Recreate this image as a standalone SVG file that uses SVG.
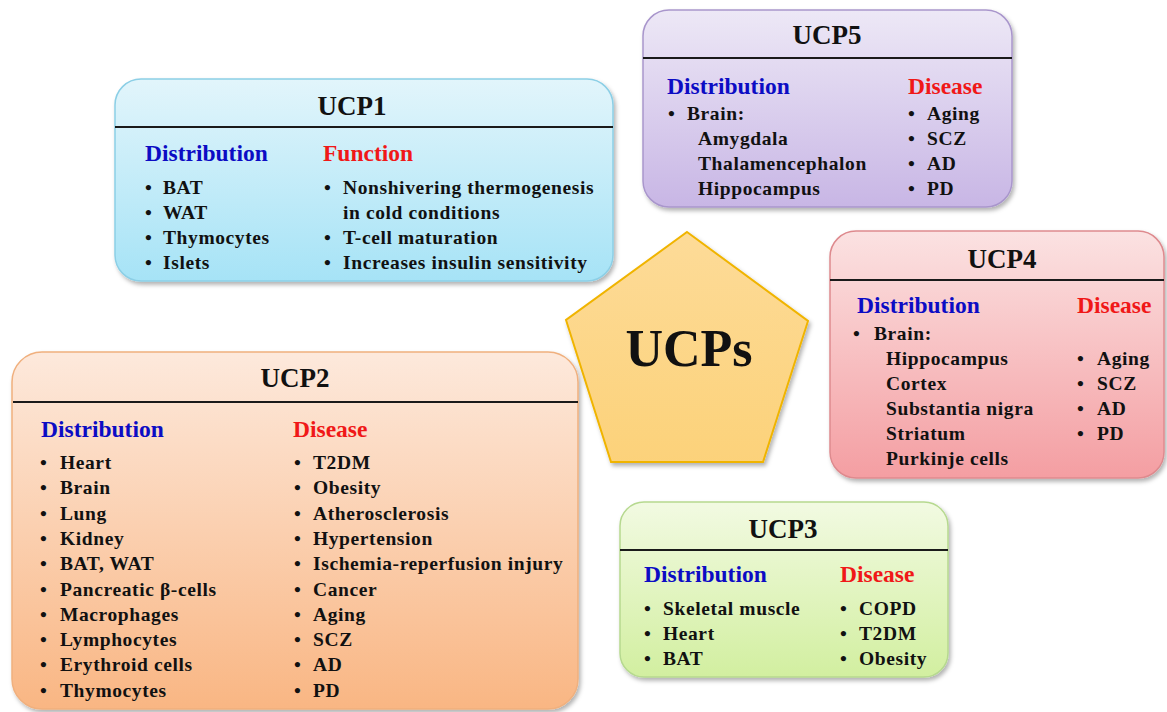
<svg xmlns="http://www.w3.org/2000/svg" width="1167" height="712" viewBox="0 0 1167 712">
<style>
.t{font-family:"Liberation Serif","Times New Roman",serif;font-weight:bold;fill:#111}
.title{font-size:27px;text-anchor:middle}
.h{font-size:23.5px}
.blue{fill:#0c0cc4}
.red{fill:#f01818}
.it{font-size:19.5px;letter-spacing:0.6px}
.hl{stroke:#1a1a1a;stroke-width:2}
</style>
<defs>
<filter id="sh" x="-5%" y="-5%" width="112%" height="115%">
<feDropShadow dx="2" dy="3" stdDeviation="2" flood-color="#000" flood-opacity="0.3"/>
</filter>
<linearGradient id="g1" x1="0" y1="0" x2="0" y2="1"><stop offset="0" stop-color="#e2f5fb"/><stop offset="1" stop-color="#a6e3f6"/></linearGradient>
<linearGradient id="g5" x1="0" y1="0" x2="0" y2="1"><stop offset="0" stop-color="#ede8f6"/><stop offset="1" stop-color="#c8b6e5"/></linearGradient>
<linearGradient id="g4" x1="0" y1="0" x2="0" y2="1"><stop offset="0" stop-color="#fbe2e2"/><stop offset="1" stop-color="#f49ea2"/></linearGradient>
<linearGradient id="g2" x1="0" y1="0" x2="0" y2="1"><stop offset="0" stop-color="#fde9dc"/><stop offset="1" stop-color="#f9b683"/></linearGradient>
<linearGradient id="g3" x1="0" y1="0" x2="0" y2="1"><stop offset="0" stop-color="#f2fae2"/><stop offset="1" stop-color="#d2efa0"/></linearGradient>
<linearGradient id="gp" x1="0" y1="0" x2="0" y2="1"><stop offset="0" stop-color="#fddb98"/><stop offset="1" stop-color="#fcd27a"/></linearGradient>
</defs>
<rect width="1167" height="712" fill="#fff"/>

<g id="connectors"></g>

<g id="ucps">
<polygon points="687,232 808,321 763,462 611,462 566,320" fill="url(#gp)" stroke="#f0b400" stroke-width="2" filter="url(#sh)"/>
<text class="t" x="689" y="366" font-size="52" text-anchor="middle">UCPs</text>
</g>

<g id="ucp1">
<rect x="115" y="79" width="498" height="202" rx="26" fill="url(#g1)" stroke="#8ccfe6" stroke-width="1.5" filter="url(#sh)"/>
<line class="hl" x1="115" y1="127" x2="613" y2="127"/>
<text class="t title" x="352" y="115">UCP1</text>
<text class="t h blue" x="145" y="161">Distribution</text>
<text class="t h red" x="323" y="161">Function</text>
<text class="t it" x="145" y="194">•</text><text class="t it" x="163" y="194">BAT</text>
<text class="t it" x="145" y="219">•</text><text class="t it" x="163" y="219">WAT</text>
<text class="t it" x="145" y="244">•</text><text class="t it" x="163" y="244">Thymocytes</text>
<text class="t it" x="145" y="269">•</text><text class="t it" x="163" y="269">Islets</text>
<text class="t it" x="324" y="194">•</text><text class="t it" x="343" y="194">Nonshivering thermogenesis</text>
<text class="t it" x="343" y="219">in cold conditions</text>
<text class="t it" x="324" y="244">•</text><text class="t it" x="343" y="244">T-cell maturation</text>
<text class="t it" x="324" y="269">•</text><text class="t it" x="343" y="269">Increases insulin sensitivity</text>
</g>

<g id="ucp5">
<rect x="643" y="10" width="369" height="197" rx="26" fill="url(#g5)" stroke="#a996cc" stroke-width="1.5" filter="url(#sh)"/>
<line class="hl" x1="643" y1="58" x2="1012" y2="58"/>
<text class="t title" x="827" y="44">UCP5</text>
<text class="t h blue" x="667" y="94">Distribution</text>
<text class="t h red" x="908" y="94">Disease</text>
<text class="t it" x="668" y="120">•</text><text class="t it" x="687" y="120">Brain:</text>
<text class="t it" x="698" y="145">Amygdala</text>
<text class="t it" x="698" y="170">Thalamencephalon</text>
<text class="t it" x="698" y="195">Hippocampus</text>
<text class="t it" x="908" y="120">•</text><text class="t it" x="927" y="120">Aging</text>
<text class="t it" x="908" y="145">•</text><text class="t it" x="927" y="145">SCZ</text>
<text class="t it" x="908" y="170">•</text><text class="t it" x="927" y="170">AD</text>
<text class="t it" x="908" y="195">•</text><text class="t it" x="927" y="195">PD</text>
</g>

<g id="ucp4">
<rect x="830" y="231" width="334" height="247" rx="26" fill="url(#g4)" stroke="#de8a8e" stroke-width="1.5" filter="url(#sh)"/>
<line class="hl" x1="830" y1="280" x2="1164" y2="280"/>
<text class="t title" x="1002" y="268">UCP4</text>
<text class="t h blue" x="857" y="313">Distribution</text>
<text class="t h red" x="1077" y="313">Disease</text>
<text class="t it" x="853" y="340">•</text><text class="t it" x="874" y="340">Brain:</text>
<text class="t it" x="886" y="365">Hippocampus</text>
<text class="t it" x="886" y="390">Cortex</text>
<text class="t it" x="886" y="415">Substantia nigra</text>
<text class="t it" x="886" y="440">Striatum</text>
<text class="t it" x="886" y="465">Purkinje cells</text>
<text class="t it" x="1077" y="365">•</text><text class="t it" x="1097" y="365">Aging</text>
<text class="t it" x="1077" y="390">•</text><text class="t it" x="1097" y="390">SCZ</text>
<text class="t it" x="1077" y="415">•</text><text class="t it" x="1097" y="415">AD</text>
<text class="t it" x="1077" y="440">•</text><text class="t it" x="1097" y="440">PD</text>
</g>

<g id="ucp2">
<rect x="12" y="352" width="566" height="357" rx="30" fill="url(#g2)" stroke="#f0b07e" stroke-width="1.5" filter="url(#sh)"/>
<line class="hl" x1="13" y1="402" x2="578" y2="402"/>
<text class="t title" x="295" y="387">UCP2</text>
<text class="t h blue" x="41" y="437">Distribution</text>
<text class="t h red" x="293" y="437">Disease</text>
<text class="t it" x="40" y="469">•</text><text class="t it" x="60" y="469">Heart</text>
<text class="t it" x="40" y="494.3">•</text><text class="t it" x="60" y="494.3">Brain</text>
<text class="t it" x="40" y="519.6">•</text><text class="t it" x="60" y="519.6">Lung</text>
<text class="t it" x="40" y="544.9">•</text><text class="t it" x="60" y="544.9">Kidney</text>
<text class="t it" x="40" y="570.2">•</text><text class="t it" x="60" y="570.2">BAT, WAT</text>
<text class="t it" x="40" y="595.5">•</text><text class="t it" x="60" y="595.5">Pancreatic β-cells</text>
<text class="t it" x="40" y="620.8">•</text><text class="t it" x="60" y="620.8">Macrophages</text>
<text class="t it" x="40" y="646.1">•</text><text class="t it" x="60" y="646.1">Lymphocytes</text>
<text class="t it" x="40" y="671.4">•</text><text class="t it" x="60" y="671.4">Erythroid cells</text>
<text class="t it" x="40" y="696.7">•</text><text class="t it" x="60" y="696.7">Thymocytes</text>
<text class="t it" x="294" y="469">•</text><text class="t it" x="313" y="469">T2DM</text>
<text class="t it" x="294" y="494.3">•</text><text class="t it" x="313" y="494.3">Obesity</text>
<text class="t it" x="294" y="519.6">•</text><text class="t it" x="313" y="519.6">Atherosclerosis</text>
<text class="t it" x="294" y="544.9">•</text><text class="t it" x="313" y="544.9">Hypertension</text>
<text class="t it" x="294" y="570.2">•</text><text class="t it" x="313" y="570.2">Ischemia-reperfusion injury</text>
<text class="t it" x="294" y="595.5">•</text><text class="t it" x="313" y="595.5">Cancer</text>
<text class="t it" x="294" y="620.8">•</text><text class="t it" x="313" y="620.8">Aging</text>
<text class="t it" x="294" y="646.1">•</text><text class="t it" x="313" y="646.1">SCZ</text>
<text class="t it" x="294" y="671.4">•</text><text class="t it" x="313" y="671.4">AD</text>
<text class="t it" x="294" y="696.7">•</text><text class="t it" x="313" y="696.7">PD</text>
</g>

<g id="ucp3">
<rect x="620" y="502" width="328" height="175" rx="24" fill="url(#g3)" stroke="#b6d98f" stroke-width="1.5" filter="url(#sh)"/>
<line class="hl" x1="620" y1="550" x2="948" y2="550"/>
<text class="t title" x="783" y="538">UCP3</text>
<text class="t h blue" x="644" y="582">Distribution</text>
<text class="t h red" x="840" y="582">Disease</text>
<text class="t it" x="644" y="615">•</text><text class="t it" x="663" y="615">Skeletal muscle</text>
<text class="t it" x="644" y="640">•</text><text class="t it" x="663" y="640">Heart</text>
<text class="t it" x="644" y="665">•</text><text class="t it" x="663" y="665">BAT</text>
<text class="t it" x="840" y="615">•</text><text class="t it" x="859" y="615">COPD</text>
<text class="t it" x="840" y="640">•</text><text class="t it" x="859" y="640">T2DM</text>
<text class="t it" x="840" y="665">•</text><text class="t it" x="859" y="665">Obesity</text>
</g>
</svg>
